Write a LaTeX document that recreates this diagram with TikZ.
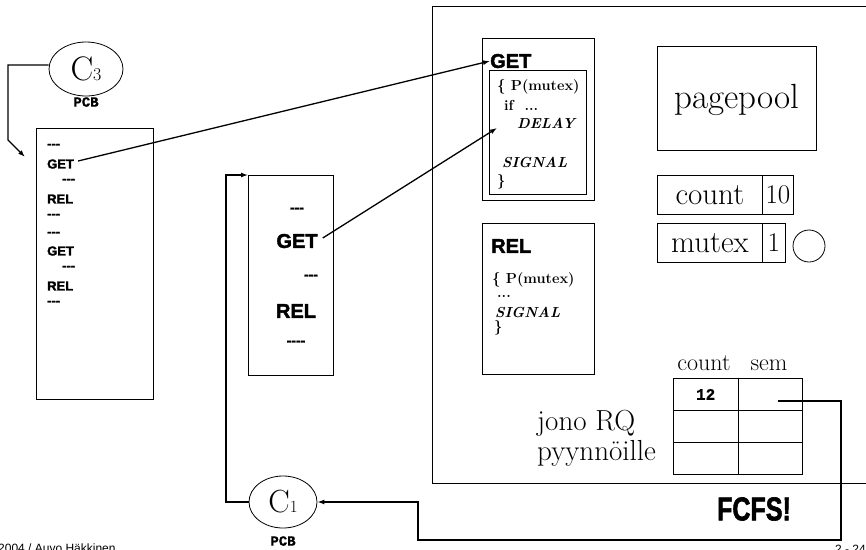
\documentclass[tikz,border=0pt]{standalone}
\usepackage{fontspec}
\usetikzlibrary{shapes.geometric,arrows.meta}
\newfontfamily\arialfont{Liberation Sans}
\newfontfamily\heavyfont{Liberation Sans}[BoldFeatures={FakeBold=2}]
\newfontfamily\courfont{Liberation Mono}[BoldFeatures={FakeBold=1}]
\newcommand\fsz[1]{\fontsize{#1}{#1}\selectfont}
\begin{document}
\begin{tikzpicture}[x=1pt,y=-1pt,
  box/.style={draw,line width=0.8pt,anchor=north west,inner sep=0pt},
  pcbbox/.style={draw,line width=0.8pt,ellipse,inner sep=0pt},
  ltxt/.style={anchor=west,inner sep=0pt,font=\heavyfont\bfseries\fsz{13}},
  htxt/.style={anchor=west,inner sep=0pt,font=\heavyfont\bfseries\fsz{20}},
  ctxt/.style={anchor=center,inner sep=0pt,font=\heavyfont\bfseries\fsz{20}},
  ctxts/.style={anchor=center,inner sep=0pt,font=\heavyfont\bfseries\fsz{14}},
  codetxt/.style={anchor=west,inner sep=0pt,font=\bfseries\fsz{14.5}},
  codeit/.style={anchor=west,inner sep=0pt,font=\bfseries\itshape\fsz{14.5}},
  pcbtxt/.style={inner sep=0pt,font=\courfont\bfseries\fsz{14}},
  conn/.style={line width=1.3pt,-{Latex[length=7pt,width=5pt]}},
  thick conn/.style={line width=2pt,-{Latex[length=7pt,width=5pt]}},
  cell/.style={draw,line width=0.8pt,anchor=north west,inner sep=0pt,minimum width=64.5pt,minimum height=32pt}
]
\useasboundingbox (0,0) rectangle (866,549);

% big frame
\node[box,minimum width=500pt,minimum height=477pt] (frame) at (432,6) {};

% C3 and PCB
\node[pcbbox,minimum width=74pt,minimum height=54pt] (c3) at (86,69) {{\fsz{34}C}{\fsz{18}3}};
\node[pcbtxt] (pcb3) at (86,102) {PCB};

% left box
\node[box,minimum width=117pt,minimum height=271pt] (lbox) at (36,128) {};
\node[ltxt] (l1) at (47,146) {---};
\node[ltxt] (l2) at (47,164) {GET};
\node[ltxt] (l3) at (62,181) {---};
\node[ltxt] (l4) at (47,199) {REL};
\node[ltxt] (l5) at (47,216) {---};
\node[ltxt] (l6) at (47,234) {---};
\node[ltxt] (l7) at (47,251) {GET};
\node[ltxt] (l8) at (62,268) {---};
\node[ltxt] (l9) at (47,286) {REL};
\node[ltxt] (l10) at (47,303) {---};

\coordinate (c3corner1) at (8,65);
\coordinate (c3corner2) at (8,140);
\coordinate (c3tip) at (25,157);
\draw[conn] (c3.west |- c3corner1) -- (c3corner1) -- (c3corner2) -- (c3tip);

% middle box
\node[box,minimum width=85pt,minimum height=200pt] (mbox) at (248,175) {};
\node[ctxts] (m1) at (297,210) {---};
\node[ctxt] (m2) at (297,241) {GET};
\node[ctxts] (m3) at (311,277) {---};
\node[ctxt] (m4) at (296,311) {REL};
\node[ctxts] (m5) at (296,343) {----};

% GET box
\node[box,minimum width=112pt,minimum height=162pt] (getbox) at (482,38) {};
\node[htxt] (gethead) at (490,61) {GET};
\node[box,minimum width=97pt,minimum height=124pt] (getin) at (489,70) {};
\node[codetxt] (g1) at (497,87) {\{ P(mutex)};
\node[codetxt] (g2) at (504,105) {if\ \ ...};
\node[codeit] (g3) at (517,123) {DELAY};
\node[codeit] (g4) at (502,162) {SIGNAL};
\node[codetxt] (g5) at (497,182) {\}};

% REL box
\node[box,minimum width=112pt,minimum height=151pt] (relbox) at (482,223) {};
\node[htxt] (relhead) at (491,246) {REL};
\node[codetxt] (r1) at (492,280) {\{ P(mutex)};
\node[codetxt] (r2) at (497,296) {...};
\node[codeit] (r3) at (495,312) {SIGNAL};
\node[codetxt] (r4) at (494,328) {\}};

% pagepool, count, mutex
\node[box,minimum width=159pt,minimum height=104pt] (pool) at (657,46) {};
\node[inner sep=0pt,font=\fsz{35}] (pooltxt) at ([yshift=-2pt]pool.center) {pagepool};
\node[box,minimum width=105pt,minimum height=39pt] (cntname) at (657,175) {};
\node[box,minimum width=31pt,minimum height=39pt] (cntval) at (762,175) {};
\node[inner sep=0pt,font=\fsz{31}] at (cntname.center) {count};
\node[inner sep=0pt,font=\fsz{27}] at (cntval.center) {10};
\node[box,minimum width=105pt,minimum height=39pt] (mtxname) at (657,223) {};
\node[box,minimum width=23pt,minimum height=39pt] (mtxval) at (762,223) {};
\node[inner sep=0pt,font=\fsz{31}] at (mtxname.center) {mutex};
\node[inner sep=0pt,font=\fsz{27}] at (mtxval.center) {1};
\node[draw,circle,line width=0.8pt,minimum size=32pt,inner sep=0pt] (mtxq) at (809,246) {};

% queue table
\node[inner sep=0pt,font=\fsz{24},anchor=base] (hcount) at (704,370) {count};
\node[inner sep=0pt,font=\fsz{24},anchor=base] (hsem) at (769,370) {sem};
\node[cell] (c11) at (673,378) {};
\node[cell] (c12) at (737.5,378) {};
\node[cell] (c21) at (673,410) {};
\node[cell] (c22) at (737.5,410) {};
\node[cell] (c31) at (673,442) {};
\node[cell] (c32) at (737.5,442) {};
\node[pcbtxt,font=\courfont\bfseries\fsz{16}] (twelve) at (c11.center) {12};
\node[inner sep=0pt,font=\fsz{29},anchor=west] (jono) at (537,423) {jono RQ};
\node[inner sep=0pt,font=\fsz{29},anchor=west] (pyyn) at (537,453) {pyynnöille};

% C1 and PCB
\node[pcbbox,minimum width=68pt,minimum height=52pt] (c1) at (283,502) {{\fsz{32}C}{\fsz{17}1}};
\node[pcbtxt] (pcb1) at (283,541) {PCB};

\coordinate (c1corner1) at (226,502);
\coordinate (c1corner2) at (226,175);
\draw[conn] (c1.west) -- (c1corner1) -- (c1corner2) -- (mbox.north west);

% FCFS
\node[inner sep=0pt,font=\heavyfont\bfseries\fsz{33}] (fcfs) at (754,509) {\scalebox{0.76}[1]{FCFS!}};

% connectors
\coordinate (getarr) at (497,128);
\draw[conn] (l2.east) ++(4,-3) -- (gethead.west);
\draw[conn] (m2.east) ++(5,-3) -- (getarr);

\coordinate (semstart) at (778,401);
\coordinate (b1) at (841,401);
\coordinate (b2) at (841,540);
\coordinate (b3) at (418,540);
\coordinate (b4) at (418,502);
\draw[thick conn] (semstart) -- (b1) -- (b2) -- (b3) -- (b4) -- (c1.east);

% footer
\node[anchor=base west,inner sep=0pt,font=\arialfont\fsz{12}] (foot1) at (-2,552) {2004 / Auvo Häkkinen};
\node[anchor=base east,inner sep=0pt,font=\arialfont\fsz{12}] (foot2) at (866,553) {2 - 24};
\end{tikzpicture}
\end{document}
